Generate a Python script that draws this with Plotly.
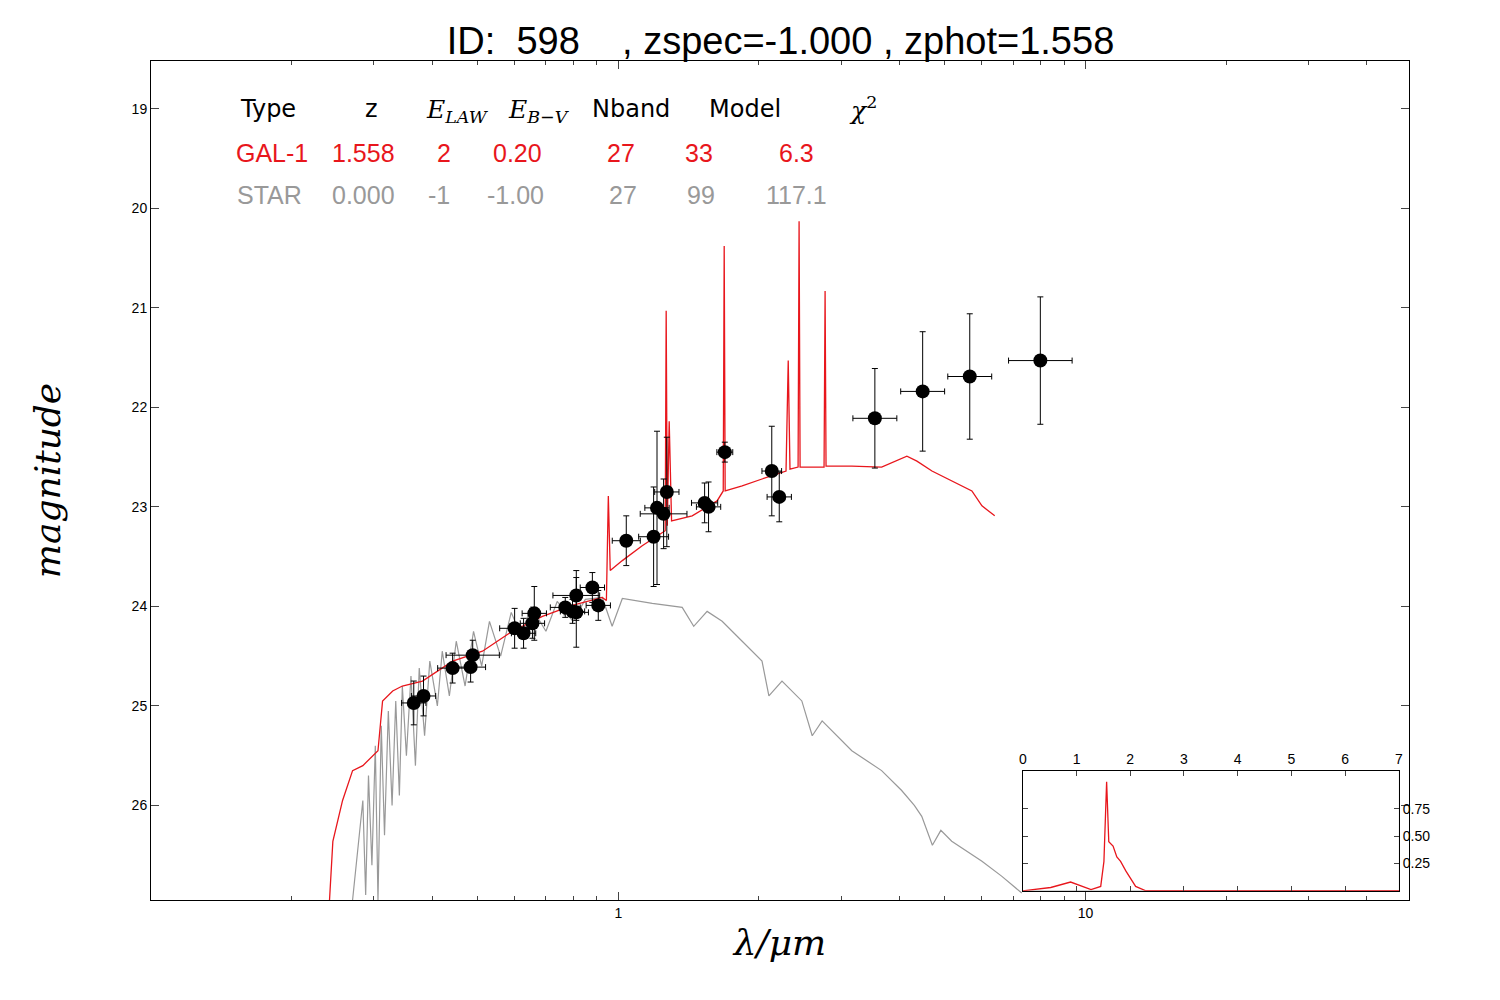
import plotly.graph_objects as go
import numpy as np

obs_lam = [0.365,0.383,0.442,0.483,0.488,0.600,0.627,0.655,0.661,0.770,0.798,0.813,0.813,0.880,0.906,
           1.04,1.19,1.21,1.25,1.27,1.53,1.56,1.69,2.13,2.21,3.54,4.48,5.65,8.0]
obs_mag = [24.97,24.90,24.62,24.61,24.49,24.22,24.27,24.17,24.07,24.01,24.05,23.89,24.06,23.81,23.99,
           23.34,23.30,23.01,23.07,22.85,22.96,23.00,22.45,22.64,22.90,22.11,21.84,21.69,21.53]
obs_dlog = [0.026,0.026,0.032,0.032,0.057,0.032,0.026,0.026,0.026,0.032,0.026,0.05,0.026,0.026,0.026,
            0.03,0.032,0.026,0.05,0.026,0.028,0.026,0.017,0.021,0.026,0.047,0.047,0.047,0.068]
obs_magerr = [0.22,0.2,0.15,0.15,0.15,0.2,0.15,0.15,0.27,0.1,0.12,0.25,0.35,0.15,0.15,
              0.25,0.5,0.77,0.35,0.55,0.2,0.25,0.1,0.45,0.25,0.5,0.6,0.63,0.64]

gal_lam = [0.241,0.245,0.257,0.270,0.284,0.306,0.313,0.329,0.345,0.381,0.442,0.512,0.593,0.688,0.797,0.924,
           0.943,0.952,0.961,1.02,1.125,1.21,1.26,1.266,1.273,1.285,1.30,1.439,1.627,1.677,1.685,1.693,
           1.841,2.03,2.285,2.31,2.33,2.425,2.437,2.449,2.756,2.77,2.783,3.16,3.66,4.145,4.355,4.69,5.17,5.71,6.0,6.39]
gal_mag = [26.95,26.36,25.95,25.65,25.60,25.45,24.95,24.85,24.80,24.75,24.55,24.45,24.25,24.10,23.99,23.91,
           23.94,22.89,23.64,23.54,23.39,23.29,23.24,21.03,23.19,22.14,23.14,23.09,22.94,22.84,20.38,22.84,
           22.79,22.72,22.64,21.53,22.62,22.60,20.13,22.60,22.60,20.83,22.59,22.59,22.60,22.49,22.54,22.64,22.74,22.84,22.99,23.09]

star_lam = [0.27,0.284,0.288,0.292,0.297,0.302,0.306,0.311,0.316,0.322,0.328,0.334,0.340,0.345,0.352,0.36,0.368,
            0.375,0.385,0.395,0.41,0.42,0.435,0.45,0.47,0.49,0.51,0.53,0.56,0.59,0.62,0.65,0.70,0.74,0.80,0.85,
            0.924,0.97,1.02,1.182,1.37,1.45,1.549,1.668,1.841,2.03,2.1,2.24,2.47,2.6,2.73,3.16,3.66,4.04,4.3,
            4.46,4.7,4.9,5.17,6.0,6.61,7.3]
star_mag = [26.95,25.95,26.9,25.7,26.6,25.4,26.95,25.2,26.3,25.05,26.0,24.95,25.9,24.8,25.5,24.7,25.6,
            24.62,25.3,24.55,25.0,24.45,24.9,24.35,24.8,24.25,24.6,24.15,24.5,24.06,24.3,24.0,24.25,23.95,24.15,23.93,
            23.91,24.2,23.92,23.97,24.01,24.2,24.05,24.15,24.35,24.55,24.9,24.75,24.95,25.3,25.15,25.45,25.65,25.85,26.0,
            26.11,26.4,26.25,26.36,26.56,26.71,26.88]

pz_z = [0,0.52,0.89,1.04,1.27,1.45,1.51,1.56,1.60,1.68,1.75,1.82,1.92,2.1,2.29,7]
pz_p = [0,0.03,0.08,0.055,0.01,0.04,0.27,1.0,0.45,0.41,0.31,0.27,0.18,0.04,0,0]

heads = ["Type", "z", "<i>E<sub>LAW</sub></i>", "<i>E<sub>B−V</sub></i>", "Nband", "Model", "<i>χ</i><sup>2</sup>"]
rowR = ["GAL-1", "1.558", "2", "0.20", "27", "33", "6.3"]
rowG = ["STAR", "0.000", "-1", "-1.00", "27", "99", "117.1"]

lam = np.array(obs_lam); d = np.array(obs_dlog)
fig = go.Figure()
fig.add_trace(go.Scatter(x=star_lam, y=star_mag, mode="lines", line=dict(color="#999999", width=1.2)))
fig.add_trace(go.Scatter(x=gal_lam, y=gal_mag, mode="lines", line=dict(color="#e8161c", width=1.3)))
fig.add_trace(go.Scatter(x=obs_lam, y=obs_mag, mode="markers",
    marker=dict(color="black", size=14),
    error_x=dict(type="data", symmetric=False, array=lam*(10**d-1), arrayminus=lam*(1-10**-d), color="black", thickness=1, width=3),
    error_y=dict(type="data", array=obs_magerr, color="black", thickness=1, width=3)))
fig.add_trace(go.Scatter(x=pz_z, y=pz_p, mode="lines", line=dict(color="#e8161c", width=1.3), xaxis="x2", yaxis="y2"))

tf = dict(size=14, family="Liberation Sans", color="black")
fig.update_layout(
    width=1500, height=1000, showlegend=False, plot_bgcolor="white", paper_bgcolor="white",
    margin=dict(l=143, r=99, t=53, b=108),
    title=dict(text="ID:  598    , zspec=-1.000 , zphot=1.558", x=0.515, xanchor="center", y=0.967, yanchor="middle",
               font=dict(family="Liberation Sans", size=38, color="black")),
    xaxis=dict(type="log", range=[-1, 1.692], showline=True, linecolor="black", mirror="ticks", ticks="inside",
               tickvals=[1, 10], ticktext=["1", "10"], showgrid=False, zeroline=False,
               minor=dict(ticks="inside", ticklen=4, tickvals=[0.2,0.3,0.4,0.5,0.6,0.7,0.8,0.9,2,3,4,5,6,7,8,9,20,30,40]),
               ticklen=8, tickfont=tf,
               title=dict(text="<i>λ/μm</i>", font=dict(family="DejaVu Serif", size=36, color="black"), standoff=10)),
    yaxis=dict(range=[26.95, 18.52], showline=True, linecolor="black", mirror="ticks", ticks="inside",
               tickvals=[19,20,21,22,23,24,25,26], showgrid=False, zeroline=False, ticklen=8, tickfont=tf,
               title=dict(text="<i>magnitude</i>", font=dict(family="DejaVu Serif", size=36, color="black"), standoff=60)),
    xaxis2=dict(domain=[0.693, 0.992], anchor="y2", range=[0, 7], side="top", showline=True, linecolor="black",
                mirror="ticks", ticks="inside", dtick=1, showgrid=False, zeroline=False, ticklen=5, tickfont=tf),
    yaxis2=dict(domain=[0.011, 0.154], anchor="x2", range=[0, 1.1], side="right", showline=True, linecolor="black",
                mirror="ticks", ticks="inside", tickvals=[0.25, 0.5, 0.75], ticktext=["0.25", "0.50", "0.75"],
                showgrid=False, zeroline=False, ticklen=5, tickfont=tf),
)
fig.add_shape(type="rect", xref="x2 domain", yref="y2 domain", x0=0, x1=1, y0=0, y1=1,
              fillcolor="white", line=dict(color="black", width=1), layer="below")

def px(x): return (x - 150) / 1258
def py(y): return (899 - y) / 839
hx = [267, 370, 456, 538, 630, 744, 862]
rxR = [271, 362, 443, 516, 620, 698, 795]
rxG = [268, 362, 438, 514, 622, 700, 795]
for i in range(7):
    fig.add_annotation(x=px(hx[i]), y=py(108 if i not in (2, 3) else 110), xref="paper", yref="paper", text=heads[i],
                       showarrow=False, xanchor="center", yanchor="middle",
                       font=dict(size=24 if i not in (2, 3, 6) else 25, color="black",
                                 family="DejaVu Serif" if i in (2, 3, 6) else "DejaVu Sans"))
    for row, xs, col, yy in ((rowR, rxR, "#e8161c", 152), (rowG, rxG, "#999999", 194)):
        fig.add_annotation(x=px(xs[i]), y=py(yy), xref="paper", yref="paper", text=row[i], showarrow=False,
                           xanchor="center", yanchor="middle",
                           font=dict(size=25, color=col, family="Liberation Sans"))
fig.write_html("out.html")
